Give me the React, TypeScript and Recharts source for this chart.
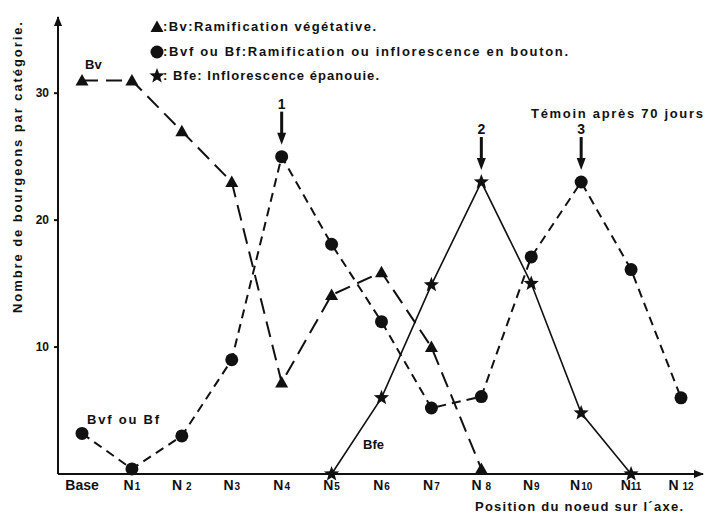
import { LineChart, Line, XAxis, YAxis, ReferenceDot } from 'recharts';

const categories = ['Base', 'N1', 'N2', 'N3', 'N4', 'N5', 'N6', 'N7', 'N8', 'N9', 'N10', 'N11', 'N12'];
const tickMain = ['Base', 'N', 'N', 'N', 'N', 'N', 'N', 'N', 'N', 'N', 'N', 'N', 'N'];
const tickSub = ['', '1', '2', '3', '4', '5', '6', '7', '8', '9', '10', '11', '12'];
const tickGap = [0, 1, 4, 1, 1, 1, 1, 1, 4, 1, 1, 0, 4];

// Bv : ramification végétative
const bv = [31, 31, 27, 23, 7.2, 14.1, 15.9, 10, 0.4, null, null, null, null];
// Bvf ou Bf : ramification ou inflorescence en bouton
const bvf = [3.2, 0.4, 3, 9, 25, 18.1, 12, 5.2, 6.1, 17.1, 23, 16.1, 6];
// Bfe : inflorescence épanouie
const bfe = [null, null, null, null, null, 0, 6, 14.9, 23, 15, 4.8, 0, null];

const yTicks = [10, 20, 30];

const arrowNotes = [
  { cat: 'N4', value: bvf[4], label: '1' },
  { cat: 'N8', value: bfe[8], label: '2' },
  { cat: 'N10', value: bvf[10], label: '3' },
];

const data = categories.map((name, i) => ({ name, bv: bv[i], bvf: bvf[i], bfe: bfe[i] }));

const FONT = '"Liberation Sans", Arial, sans-serif';
const INK = '#111';

function triangle(cx: number, cy: number) {
  return <path d={`M${cx},${cy - 6.5} L${cx + 6.5},${cy + 5} L${cx - 6.5},${cy + 5} Z`} fill={INK} />;
}

function circle(cx: number, cy: number) {
  return <circle cx={cx} cy={cy} r={6.5} fill={INK} />;
}

function star(cx: number, cy: number) {
  const pts: string[] = [];
  for (let k = 0; k < 10; k++) {
    const r = k % 2 === 0 ? 8 : 3.4;
    const a = -Math.PI / 2 + (k * Math.PI) / 5;
    pts.push(`${(cx + r * Math.cos(a)).toFixed(2)},${(cy + r * Math.sin(a)).toFixed(2)}`);
  }
  return <polygon points={pts.join(' ')} fill={INK} />;
}

const makeDot = (draw: (cx: number, cy: number) => JSX.Element) => (p: any) => {
  if (p.cx == null || p.cy == null || p.value == null) return <g key={p.key} />;
  return <g key={p.key}>{draw(p.cx, p.cy)}</g>;
};

function XTick({ x, y, payload }: any) {
  const i = categories.indexOf(payload.value);
  return (
    <text x={x} y={y + 14} textAnchor="middle" fontFamily={FONT} fontWeight="bold" fontSize={14} fill={INK}>
      {tickMain[i]}
      {tickSub[i] && (
        <tspan fontSize={10} dx={tickGap[i]}>
          {tickSub[i]}
        </tspan>
      )}
    </text>
  );
}

function NoteArrow({ cx, cy, label }: any) {
  return (
    <g>
      <text x={cx} y={cy - 48} textAnchor="middle" fontFamily={FONT} fontWeight="bold" fontSize={14} fill={INK}>
        {label}
      </text>
      <rect x={cx - 1.5} y={cy - 45} width={3} height={22} fill={INK} />
      <path d={`M${cx - 4.5},${cy - 24} L${cx + 4.5},${cy - 24} L${cx},${cy - 12} Z`} fill={INK} />
    </g>
  );
}

export default function App() {
  const txt = { fontFamily: FONT, fontWeight: 'bold' as const, fontSize: 13, fill: INK };
  return (
    <div style={{ position: 'fixed', left: 0, top: 0, width: 705, height: 517, background: '#fff' }}>
      <LineChart width={705} height={517} data={data} margin={{ top: 17, right: 2, bottom: 13, left: 0 }}>
        <XAxis
          dataKey="name"
          height={30}
          padding={{ left: 24, right: 22 }}
          axisLine={{ stroke: INK, strokeWidth: 2, markerEnd: 'url(#axisArrow)' }}
          tickLine={false}
          tickSize={0}
          tick={<XTick />}
          interval={0}
        />
        <YAxis
          width={58}
          domain={[0, 36]}
          ticks={yTicks}
          type="number"
          axisLine={{ stroke: INK, strokeWidth: 2, markerStart: 'url(#axisArrow)' }}
          tickLine={{ stroke: INK, strokeWidth: 2 }}
          tickSize={4}
          tickMargin={5}
          tick={{ fontFamily: FONT, fontWeight: 'bold', fontSize: 12, fill: INK }}
        />
        <Line
          dataKey="bv"
          stroke={INK}
          strokeWidth={2}
          strokeDasharray="16 8"
          dot={makeDot(triangle)}
          activeDot={false}
          isAnimationActive={false}
        />
        <Line
          dataKey="bvf"
          stroke={INK}
          strokeWidth={2}
          strokeDasharray="9 6"
          dot={makeDot(circle)}
          activeDot={false}
          isAnimationActive={false}
        />
        <Line
          dataKey="bfe"
          stroke={INK}
          strokeWidth={1.6}
          dot={makeDot(star)}
          activeDot={false}
          isAnimationActive={false}
        />
        {arrowNotes.map((n) => (
          <ReferenceDot
            key={n.label}
            x={n.cat}
            y={n.value as number}
            shape={(p: any) => <NoteArrow cx={p.cx} cy={p.cy} label={n.label} />}
          />
        ))}
      </LineChart>
      <svg width={705} height={517} style={{ position: 'absolute', left: 0, top: 0, pointerEvents: 'none' }}>
        <defs>
          <marker id="axisArrow" viewBox="0 0 10 8" refX="9" refY="4" markerWidth="5" markerHeight="4" orient="auto-start-reverse">
            <path d="M0,0 L10,4 L0,8 Z" fill={INK} />
          </marker>
        </defs>
        {triangle(157, 27)}
        {circle(157, 52)}
        {star(157, 76)}
        <text x={163} y={31} textLength={213} lengthAdjust="spacing" {...txt}>:Bv:Ramification végétative.</text>
        <text x={163} y={56} textLength={405} lengthAdjust="spacing" {...txt}>:Bvf ou Bf:Ramification ou inflorescence en bouton.</text>
        <text x={163} y={80} textLength={216} lengthAdjust="spacing" {...txt}>: Bfe: Inflorescence épanouie.</text>
        <text x={531} y={118} textLength={172} lengthAdjust="spacing" {...txt}>Témoin après 70 jours</text>
        <text x={85} y={69} {...txt}>Bv</text>
        <text x={87} y={424} textLength={72} lengthAdjust="spacing" {...txt}>Bvf ou Bf</text>
        <text x={363} y={449} {...txt}>Bfe</text>
        <text x={475} y={511} textLength={208} lengthAdjust="spacing" {...txt}>Position du noeud sur l´axe.</text>
        <text
          transform="translate(22,313) rotate(-90)"
          x={0}
          y={0}
          textLength={291}
          lengthAdjust="spacing"
          {...txt}
        >
          Nombre de bourgeons par catégorie.
        </text>
      </svg>
    </div>
  );
}
